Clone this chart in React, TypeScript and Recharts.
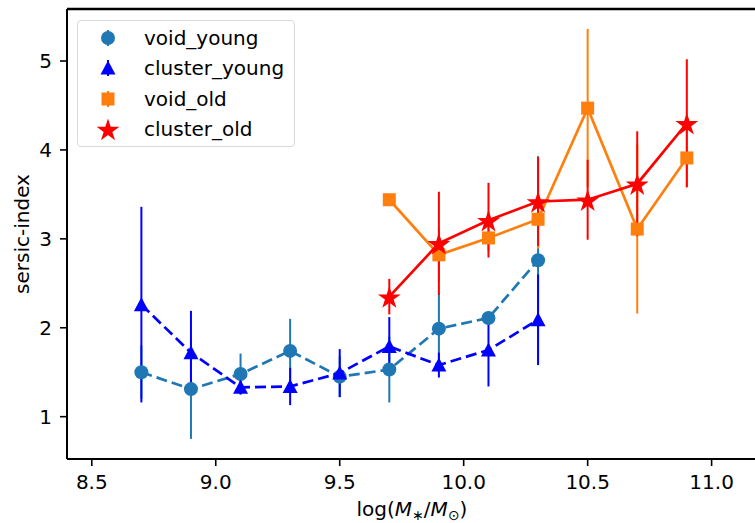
import React from 'react';
import { ComposedChart, Scatter, XAxis, YAxis, ErrorBar, ReferenceLine, Label } from 'recharts';

// stellar mass bins (log M*/Msun)
const youngBins = [8.7, 8.9, 9.1, 9.3, 9.5, 9.7, 9.9, 10.1, 10.3];
const oldBins = [9.7, 9.9, 10.1, 10.3, 10.5, 10.7, 10.9];

const voidYoung = [1.5, 1.31, 1.48, 1.74, 1.45, 1.53, 1.99, 2.11, 2.76];
const voidYoungErr = [0.3, 0.56, 0.23, 0.36, 0.23, 0.37, 0.4, 0.07, 1.17];
const clusterYoung = [2.26, 1.72, 1.33, 1.34, 1.49, 1.79, 1.58, 1.75, 2.09];
const clusterYoungErr = [1.1, 0.47, 0.08, 0.21, 0.27, 0.33, 0.14, 0.41, 0.51];
const voidOld = [3.44, 2.82, 3.01, 3.22, 4.47, 3.11, 3.91];
const voidOldErr = [0.05, 0.3, 0.15, 0.33, 0.89, 0.95, 0.33];
const clusterOld = [2.35, 2.95, 3.21, 3.42, 3.44, 3.62, 4.3];
const clusterOldErr = [0.2, 0.58, 0.42, 0.5, 0.45, 0.59, 0.72];

const xTicks = [8.5, 9.0, 9.5, 10.0, 10.5, 11.0];
const yTicks = [1, 2, 3, 4, 5];

const toPoints = (xs: number[], ys: number[], errs: number[]) =>
  xs.map((x, i) => ({ x, y: ys[i], err: errs[i] }));

const FONT = '"DejaVu Sans", sans-serif';
const C_VOID_YOUNG = '#1f77b4';
const C_CLUSTER_YOUNG = '#0000ff';
const C_VOID_OLD = '#ff7f0e';
const C_CLUSTER_OLD = '#ff0000';

const Dot = ({ cx, cy }: any) => <circle cx={cx} cy={cy} r={7} fill={C_VOID_YOUNG} />;

const Tri = ({ cx, cy }: any) => (
  <polygon points={`${cx},${cy - 7.5} ${cx - 7.5},${cy + 6.5} ${cx + 7.5},${cy + 6.5}`} fill={C_CLUSTER_YOUNG} />
);

const Sq = ({ cx, cy }: any) => <rect x={cx - 6.5} y={cy - 6.5} width={13} height={13} fill={C_VOID_OLD} />;

const starPoints = (cx: number, cy: number, R: number) => {
  const pts: string[] = [];
  for (let k = 0; k < 10; k++) {
    const a = ((-90 + k * 36) * Math.PI) / 180;
    const r = k % 2 === 0 ? R : R * 0.382;
    pts.push(`${cx + r * Math.cos(a)},${cy + r * Math.sin(a)}`);
  }
  return pts.join(' ');
};

const Star = ({ cx, cy }: any) => <polygon points={starPoints(cx, cy + 1.5, 12)} fill={C_CLUSTER_OLD} />;

const legendItems = [
  { name: 'void_young', color: C_VOID_YOUNG, kind: 'dot' },
  { name: 'cluster_young', color: C_CLUSTER_YOUNG, kind: 'tri' },
  { name: 'void_old', color: C_VOID_OLD, kind: 'sq' },
  { name: 'cluster_old', color: C_CLUSTER_OLD, kind: 'star' },
];

const LegendMarker = ({ kind, color }: { kind: string; color: string }) => (
  <svg width={30} height={30} style={{ display: 'block' }}>
    {kind !== 'star' && <line x1={15} y1={7} x2={15} y2={23} stroke={color} strokeWidth={2} />}
    {kind === 'dot' && <circle cx={15} cy={15} r={7} fill={color} />}
    {kind === 'tri' && <polygon points="15,7.5 7.5,21.5 22.5,21.5" fill={color} />}
    {kind === 'sq' && <rect x={8.5} y={8.5} width={13} height={13} fill={color} />}
    {kind === 'star' && <polygon points={starPoints(15, 16.5, 12)} fill={color} />}
  </svg>
);

const XLabel = () => (
  <text x={412} y={516} textAnchor="middle" fontSize={20} fontFamily={FONT} fill="#000">
    log(
    <tspan fontStyle="italic">M</tspan>
    <tspan fontSize={14} dy={4}>∗</tspan>
    <tspan dy={-4}>/</tspan>
    <tspan fontStyle="italic">M</tspan>
    <tspan fontSize={14} dy={4}>⊙</tspan>
    <tspan dy={-4}>)</tspan>
  </text>
);

const YLabel = () => (
  <text x={22} y={234} transform="rotate(-90 22 234)" textAnchor="middle" dominantBaseline="central" fontSize={20} fontFamily={FONT} fill="#000">
    sersic-index
  </text>
);

export default function App() {
  const tickStyle = { fill: '#000', fontSize: 20, fontFamily: FONT };
  return (
    <div style={{ position: 'absolute', left: 0, top: 0, width: 755, height: 523, background: '#fff' }}>
      <ComposedChart width={755} height={523} margin={{ top: 9, right: 0, bottom: 0, left: 0 }}>
        <XAxis
          type="number"
          dataKey="x"
          domain={[8.4, 11.175]}
          allowDataOverflow
          ticks={xTicks}
          tickFormatter={(v: number) => v.toFixed(1)}
          tick={tickStyle}
          tickSize={7}
          tickMargin={9}
          height={64}
          axisLine={{ stroke: '#000', strokeWidth: 2 }}
          tickLine={{ stroke: '#000', strokeWidth: 1.6 }}
        >
          <Label content={() => <XLabel />} />
        </XAxis>
        <YAxis
          type="number"
          dataKey="y"
          domain={[0.524, 5.585]}
          allowDataOverflow
          ticks={yTicks}
          tick={tickStyle}
          tickSize={7}
          tickMargin={8}
          width={67}
          axisLine={{ stroke: '#000', strokeWidth: 2 }}
          tickLine={{ stroke: '#000', strokeWidth: 1.6 }}
        >
          <Label content={() => <YLabel />} />
        </YAxis>
        <ReferenceLine y={5.585} stroke="#000" strokeWidth={2.5} />

        <Scatter
          name="void_young"
          data={toPoints(youngBins, voidYoung, voidYoungErr)}
          line={{ stroke: C_VOID_YOUNG, strokeWidth: 2.7, strokeDasharray: '11 5' }}
          shape={Dot}
          isAnimationActive={false}
        >
          <ErrorBar dataKey="err" direction="y" width={0} stroke={C_VOID_YOUNG} strokeWidth={2} />
        </Scatter>
        <Scatter
          name="cluster_young"
          data={toPoints(youngBins, clusterYoung, clusterYoungErr)}
          line={{ stroke: C_CLUSTER_YOUNG, strokeWidth: 2.7, strokeDasharray: '11 5' }}
          shape={Tri}
          isAnimationActive={false}
        >
          <ErrorBar dataKey="err" direction="y" width={0} stroke={C_CLUSTER_YOUNG} strokeWidth={2} />
        </Scatter>
        <Scatter
          name="void_old"
          data={toPoints(oldBins, voidOld, voidOldErr)}
          line={{ stroke: C_VOID_OLD, strokeWidth: 2.7 }}
          shape={Sq}
          isAnimationActive={false}
        >
          <ErrorBar dataKey="err" direction="y" width={0} stroke={C_VOID_OLD} strokeWidth={2} />
        </Scatter>
        <Scatter
          name="cluster_old"
          data={toPoints(oldBins, clusterOld, clusterOldErr)}
          line={{ stroke: C_CLUSTER_OLD, strokeWidth: 2.7 }}
          shape={Star}
          isAnimationActive={false}
        >
          <ErrorBar dataKey="err" direction="y" width={0} stroke={C_CLUSTER_OLD} strokeWidth={2} />
        </Scatter>
      </ComposedChart>

      <div
        style={{
          position: 'absolute',
          left: 77,
          top: 20,
          width: 218,
          height: 127,
          border: '1px solid #d9d9d9',
          borderRadius: 4,
          background: 'rgba(255,255,255,0.8)',
          fontFamily: FONT,
          fontSize: 20,
          color: '#000',
          paddingTop: 2,
          boxSizing: 'border-box',
        }}
      >
        {legendItems.map((it) => (
          <div key={it.name} style={{ display: 'flex', alignItems: 'center', height: 30.3 }}>
            <div style={{ marginLeft: 15, width: 30 }}>
              <LegendMarker kind={it.kind} color={it.color} />
            </div>
            <span style={{ marginLeft: 21, lineHeight: '30px' }}>{it.name}</span>
          </div>
        ))}
      </div>
    </div>
  );
}
